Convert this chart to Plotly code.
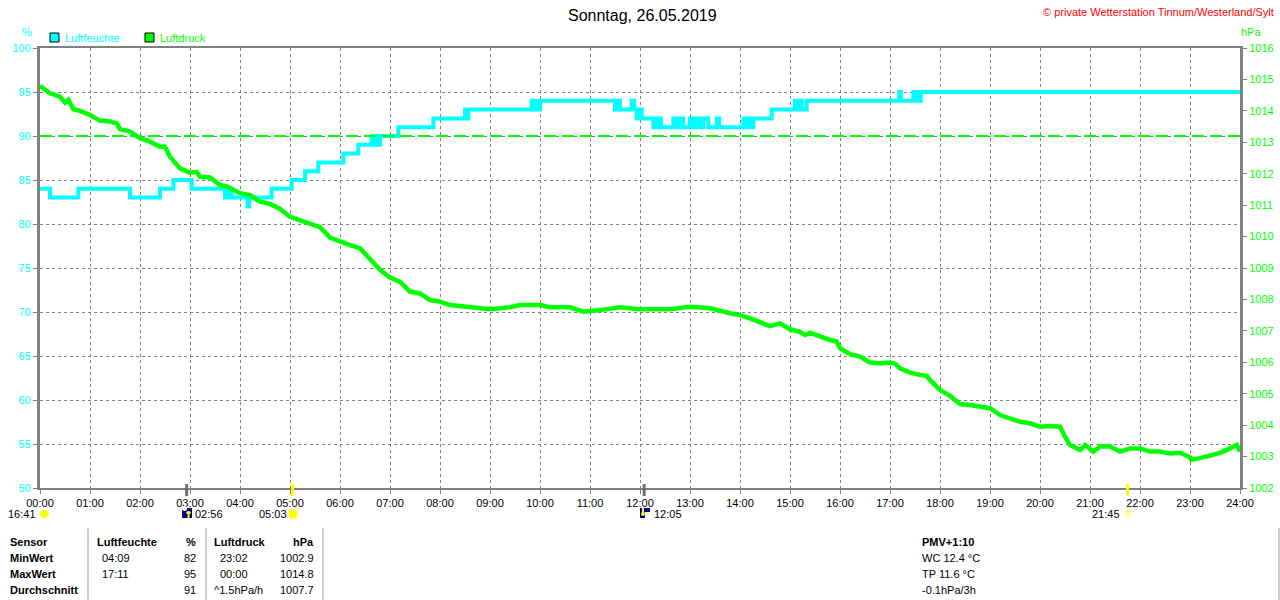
import plotly.graph_objects as go

# ---------------- data ----------------
title_text = "Sonntag, 26.05.2019"
copyright_text = "© private Wetterstation Tinnum/Westerland/Sylt"

hum_times = ["00:00", "00:12", "00:46", "01:48", "02:24", "02:40", "03:02", "03:42", "03:43", "03:46",
             "03:48", "03:50", "04:09", "04:11", "04:38", "05:02", "05:18", "05:34", "06:04", "06:22",
             "06:38", "06:41", "06:43", "06:46", "06:48", "07:10", "07:52", "08:30", "08:32", "08:34",
             "09:50", "09:53", "09:55", "09:58", "10:00", "11:30", "11:33", "11:36", "11:50", "11:53",
             "11:56", "12:00", "12:02", "12:16", "12:18", "12:20", "12:23", "12:25", "12:40", "12:43",
             "12:47", "12:52", "13:00", "13:04", "13:07", "13:12", "13:16", "13:22", "13:32", "13:35",
             "14:04", "14:06", "14:10", "14:12", "14:16", "14:38", "15:06", "15:08", "15:12", "15:14",
             "15:20", "17:11", "17:13", "17:28", "17:30", "17:32", "17:35", "17:37", "24:00"]
hum_values = [84, 83, 84, 83, 84, 85, 84, 83, 84, 83,
              84, 83, 82, 83, 84, 85, 86, 87, 88, 89,
              90, 89, 90, 89, 90, 91, 92, 93, 92, 93,
              94, 93, 94, 93, 94, 93, 94, 93, 94, 93,
              92, 93, 92, 91, 92, 91, 92, 91, 92, 91,
              92, 91, 92, 91, 92, 91, 92, 91, 92, 91,
              92, 91, 92, 91, 92, 93, 94, 93, 94, 93,
              94, 95, 94, 95, 94, 95, 94, 95, 95]

press_times = ["00:00", "00:12", "00:24", "00:30", "00:34", "00:40", "00:48", "01:00", "01:12", "01:24",
               "01:32", "01:36", "01:48", "02:00", "02:12", "02:24", "02:30", "02:36", "02:48", "03:00",
               "03:08", "03:12", "03:24", "03:36", "03:44", "03:48", "04:00", "04:12", "04:24", "04:36",
               "04:48", "05:00", "05:12", "05:24", "05:36", "05:48", "06:00", "06:12", "06:24", "06:36",
               "06:48", "07:00", "07:12", "07:24", "07:36", "07:48", "08:00", "08:12", "08:24", "08:48",
               "09:00", "09:24", "09:36", "10:00", "10:12", "10:36", "10:52", "11:12", "11:36", "12:00",
               "12:36", "13:00", "13:24", "13:48", "14:00", "14:12", "14:24", "14:36", "14:48", "15:00",
               "15:12", "15:18", "15:24", "15:36", "15:48", "15:56", "16:00", "16:12", "16:24", "16:36",
               "16:48", "17:00", "17:06", "17:12", "17:24", "17:36", "17:44", "17:48", "18:00", "18:12",
               "18:24", "18:36", "18:48", "19:00", "19:12", "19:24", "19:36", "19:48", "20:00", "20:12",
               "20:24", "20:30", "20:36", "20:48", "20:54", "21:04", "21:12", "21:24", "21:36", "21:48",
               "22:00", "22:12", "22:24", "22:36", "22:48", "23:00", "23:02", "23:12", "23:24", "23:36",
               "23:48", "23:56", "24:00"]
press_values = [1014.8, 1014.56, 1014.45, 1014.26, 1014.35, 1014.05, 1014.0, 1013.87, 1013.69, 1013.66,
                1013.6, 1013.42, 1013.34, 1013.13, 1013.02, 1012.86, 1012.86, 1012.54, 1012.17, 1012.03,
                1012.06, 1011.9, 1011.88, 1011.64, 1011.6, 1011.54, 1011.38, 1011.32, 1011.11, 1011.04,
                1010.88, 1010.63, 1010.52, 1010.4, 1010.3, 1009.97, 1009.84, 1009.73, 1009.63, 1009.31,
                1008.94, 1008.7, 1008.56, 1008.25, 1008.19, 1007.98, 1007.93, 1007.82, 1007.79, 1007.75,
                1007.69, 1007.75, 1007.82, 1007.82, 1007.75, 1007.75, 1007.61, 1007.66, 1007.75, 1007.69,
                1007.69, 1007.77, 1007.72, 1007.56, 1007.5, 1007.4, 1007.26, 1007.15, 1007.24, 1007.05,
                1006.97, 1006.87, 1006.94, 1006.81, 1006.71, 1006.66, 1006.45, 1006.26, 1006.18, 1005.99,
                1005.97, 1005.99, 1005.95, 1005.81, 1005.67, 1005.6, 1005.57, 1005.44, 1005.12, 1004.93,
                1004.67, 1004.64, 1004.59, 1004.54, 1004.32, 1004.22, 1004.11, 1004.06, 1003.95, 1003.97,
                1003.95, 1003.63, 1003.37, 1003.21, 1003.37, 1003.16, 1003.32, 1003.32, 1003.16, 1003.26,
                1003.26, 1003.16, 1003.16, 1003.1, 1003.12, 1002.98, 1002.9, 1002.95, 1003.02, 1003.12,
                1003.26, 1003.37, 1003.16]

ref_pressure = 1013.2

hour_ticks = list(range(0, 25))
hour_labels = ["%02d:00" % h for h in hour_ticks]
hum_ticks = list(range(50, 101, 5))
press_ticks = list(range(1002, 1017))

event_labels = ["16:41", "02:56", "05:03", "12:05", "21:45"]
event_times = [None, "02:56", "05:03", "12:05", "21:45"]

table_header = ["Sensor", "Luftfeuchte", "%", "Luftdruck", "hPa"]
table_rows = ["MinWert", "MaxWert", "Durchschnitt"]
hum_time_col = ["04:09", "17:11", ""]
hum_val_col = ["82", "95", "91"]
press_time_col = ["23:02", "00:00", "^1.5hPa/h"]
press_val_col = ["1002.9", "1014.8", "1007.7"]
extra_title = "PMV+1:10"
extra_lines = ["WC 12.4 °C", "TP 11.6 °C", "-0.1hPa/3h"]

# ---------------- helpers ----------------
W, H = 1280, 600
L, R, T, B = 40, 40, 48, 112
PW, PH = W - L - R, H - T - B
FONT = "Liberation Sans, Arial, sans-serif"
CYAN = "#00ffff"
GREEN = "#00ff00"
GREY = "#808080"


def px(x):
    return (x - L) / PW


def py(y):
    return (H - B - y) / PH


def hrs(s):
    h, m = s.split(":")
    return int(h) + int(m) / 60.0


fig = go.Figure()

fig.add_trace(go.Scatter(x=[0, 24], y=[ref_pressure, ref_pressure], yaxis="y2", mode="lines",
                         line=dict(color=GREEN, width=2, dash="12px,6px"), hoverinfo="skip",
                         showlegend=False))
fig.add_trace(go.Scatter(x=[hrs(t) for t in press_times], y=press_values, yaxis="y2", mode="lines",
                         line=dict(color=GREEN, width=4.5), name="Luftdruck", showlegend=False))
fig.add_trace(go.Scatter(x=[hrs(t) for t in hum_times], y=hum_values, mode="lines",
                         line=dict(color=CYAN, width=4, shape="hv"), name="Luftfeuchte",
                         showlegend=False))

ann = []
shapes = []


def text(x, y, s, color="black", size=11, xanchor="left", bold=False):
    ann.append(dict(x=px(x), y=py(y), xref="paper", yref="paper", text=("<b>%s</b>" % s) if bold else s,
                    showarrow=False, xanchor=xanchor, yanchor="middle",
                    font=dict(family=FONT, size=size, color=color)))


def rect(x0, y0, x1, y1, fill=None, line=None, lw=1, kind="rect"):
    shapes.append(dict(type=kind, xref="paper", yref="paper", x0=px(x0), x1=px(x1), y0=py(y1), y1=py(y0),
                       fillcolor=fill if fill else "rgba(0,0,0,0)",
                       line=dict(color=line if line else "rgba(0,0,0,0)", width=lw if line else 0),
                       layer="above"))


def vline(x, y0, y1, color, width):
    shapes.append(dict(type="line", xref="paper", yref="paper", x0=px(x), x1=px(x), y0=py(y0), y1=py(y1),
                       line=dict(color=color, width=width), layer="above"))


# title / headers
text(643, 15, title_text, size=16, xanchor="center")
text(1276, 12, copyright_text, color="#ff0000", size=11, xanchor="right")
text(27, 32, "%", color=CYAN, size=11, xanchor="center")
text(1251, 32, "hPa", color=GREEN, size=11, xanchor="center")

# legend
rect(50, 33, 59, 42, fill=CYAN, line="black", lw=1)
text(63, 38, "Luftfeuchte", color=CYAN)
rect(145, 33, 154, 42, fill=GREEN, line="black", lw=1)
text(158, 38, "Luftdruck", color=GREEN)

# event markers on axis
for t, col in zip(event_times[1:], ["#707070", "#ffff00", "#707070", "#ffff00"]):
    h = hrs(t)
    shapes.append(dict(type="line", xref="x", yref="paper", x0=h, x1=h, y0=py(484), y1=py(496),
                       line=dict(color=col, width=3), layer="above"))

# event label row
text(38, 514, event_labels[0], xanchor="right")
rect(40, 510, 49, 518, fill="#ffff00", kind="circle")
rect(182, 508, 192, 518, fill="#000080")
rect(182, 506, 187, 511, fill="white", kind="circle")
vline(188.5, 512, 518, "#ffff00", 2)
rect(186, 511, 191, 514, fill="#ffff00", kind="circle")
text(193, 514, event_labels[1])
text(289, 514, event_labels[2], xanchor="right")
rect(287, 508, 299, 520, fill="#ffff99", kind="circle")
rect(289, 510, 297, 518, fill="#ffff00", kind="circle")
rect(640, 508, 650, 518, fill="#000080")
rect(645, 512, 650, 518, fill="white")
vline(643, 508, 514, "#ffff00", 2)
rect(641, 512, 645, 516, fill="#ffff00", kind="circle")
text(652, 514, event_labels[3])
text(1122, 514, event_labels[4], xanchor="right")
rect(1126, 511, 1130, 516, line="#ffff00", lw=1)

# table
for x in [88, 206, 323]:
    vline(x, 528, 600, "#a0a0a0", 1)
vline(1279, 528, 600, "#a0a0a0", 1)
text(8, 542, table_header[0], bold=True)
text(95, 542, table_header[1], bold=True)
text(198, 542, table_header[2], bold=True, xanchor="right")
text(212, 542, table_header[3], bold=True)
text(316, 542, table_header[4], bold=True, xanchor="right")
for i, yy in enumerate([558, 574, 590]):
    text(8, yy, table_rows[i], bold=True)
    if hum_time_col[i]:
        text(100, yy, hum_time_col[i])
    text(198, yy, hum_val_col[i], xanchor="right")
    text(218 if "^" not in press_time_col[i] else 212, yy, press_time_col[i])
    text(316, yy, press_val_col[i], xanchor="right")
text(920, 542, extra_title, bold=True)
for i, yy in enumerate([558, 574, 590]):
    text(920, yy, extra_lines[i])

fig.update_layout(
    width=W, height=H, autosize=False,
    margin=dict(l=L, r=R, t=T, b=B, pad=0, autoexpand=False),
    paper_bgcolor="white", plot_bgcolor="white",
    showlegend=False,
    font=dict(family=FONT, size=11, color="black"),
    xaxis=dict(range=[0, 24], tickmode="array", tickvals=hour_ticks, ticktext=hour_labels,
               showgrid=True, gridcolor=GREY, griddash="3px,3px", gridwidth=1, automargin=False,
               showline=True, linecolor=GREY, linewidth=2, mirror=True,
               ticks="outside", ticklen=4, tickcolor=GREY, zeroline=False,
               tickfont=dict(family=FONT, size=11, color="black")),
    yaxis=dict(range=[50, 100], tickmode="array", tickvals=hum_ticks, automargin=False,
               showgrid=True, gridcolor=GREY, griddash="3px,3px", gridwidth=1,
               showline=True, linecolor=GREY, linewidth=3,
               ticks="outside", ticklen=4, tickcolor=GREY, zeroline=False,
               tickfont=dict(family=FONT, size=11, color=CYAN)),
    yaxis2=dict(range=[1002, 1016], tickmode="array", tickvals=press_ticks, overlaying="y", side="right",
                showgrid=False, showline=True, linecolor=GREY, linewidth=3, automargin=False,
                ticks="outside", ticklen=4, tickcolor=GREY, zeroline=False,
                tickfont=dict(family=FONT, size=11, color=GREEN)),
    annotations=ann,
    shapes=shapes,
)

fig.write_html("out.html", config={"displayModeBar": False, "responsive": False},
               post_script="document.body.style.margin='0';document.body.style.overflow='hidden';")
